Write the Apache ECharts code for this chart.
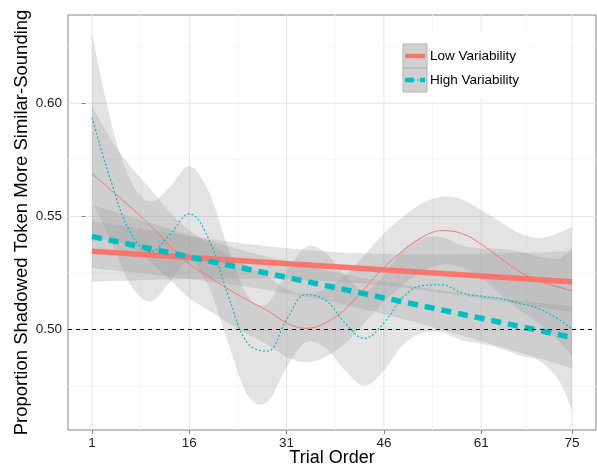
<!DOCTYPE html>
<html>
<head>
<meta charset="utf-8">
<script src="https://cdn.jsdelivr.net/npm/echarts@6/dist/echarts.min.js"></script>
<style>
  html, body { margin: 0; padding: 0; background: #fff; }
  #chart { width: 597px; height: 468px; }
</style>
</head>
<body>
<div id="chart"></div>
<script>
// trial positions for the loess curves and their bands
const trial = [1, 4, 7, 10, 13, 16, 19, 22, 25, 28, 31, 34, 37, 40, 43, 46, 49, 52, 55, 58, 61, 64, 67, 70, 73, 75];

const lowLoess = [0.569, 0.5615, 0.554, 0.546, 0.537, 0.529, 0.5235, 0.518, 0.513, 0.5085, 0.503, 0.5006, 0.503, 0.509, 0.518, 0.5275, 0.535, 0.541, 0.5438, 0.5425, 0.5378, 0.5315, 0.5255, 0.5215, 0.5188, 0.5171];
const lowLoessUpper = [0.599, 0.5835, 0.572, 0.562, 0.552, 0.544, 0.5385, 0.533, 0.528, 0.5235, 0.518, 0.5156, 0.518, 0.524, 0.533, 0.5425, 0.55, 0.556, 0.5588, 0.5575, 0.5528, 0.5475, 0.5425, 0.5405, 0.5428, 0.5456];
const lowLoessLower = [0.539, 0.5395, 0.536, 0.53, 0.522, 0.514, 0.5085, 0.503, 0.498, 0.4935, 0.488, 0.4856, 0.488, 0.494, 0.503, 0.5125, 0.52, 0.526, 0.5288, 0.5275, 0.5228, 0.5155, 0.5085, 0.5025, 0.4948, 0.4886];

const highLoess = [0.5937, 0.565, 0.5425, 0.5345, 0.542, 0.5512, 0.54, 0.515, 0.494, 0.4905, 0.5045, 0.5155, 0.513, 0.503, 0.4962, 0.503, 0.5145, 0.5195, 0.5198, 0.5163, 0.5148, 0.5137, 0.5115, 0.5092, 0.5045, 0.5002];
const highLoessUpper = [0.6307, 0.591, 0.5655, 0.5565, 0.563, 0.5722, 0.561, 0.536, 0.515, 0.5115, 0.5255, 0.5365, 0.534, 0.524, 0.5172, 0.524, 0.5355, 0.5405, 0.5408, 0.5373, 0.5358, 0.5357, 0.5345, 0.5322, 0.5315, 0.5362];
const highLoessLower = [0.5567, 0.539, 0.5195, 0.5125, 0.521, 0.5302, 0.519, 0.494, 0.471, 0.468, 0.4835, 0.4945, 0.492, 0.482, 0.4752, 0.482, 0.4935, 0.4985, 0.4988, 0.4953, 0.4938, 0.4917, 0.4885, 0.4862, 0.4775, 0.4642];

// linear fits and their bands
const linEnds = [1, 75];
const lowLinear = [0.5346, 0.5212];
const highLinear = [0.5412, 0.4966];
const linTrial = [1, 10, 19, 28, 38, 47, 56, 65, 75];
const lowLinUpper = [0.548, 0.544, 0.5401, 0.5369, 0.5344, 0.5334, 0.5333, 0.5338, 0.5346];
const lowLinLower = [0.5212, 0.522, 0.5225, 0.5225, 0.5214, 0.5192, 0.5159, 0.5122, 0.5078];
const highLinUpper = [0.5552, 0.5471, 0.5393, 0.5323, 0.5256, 0.5208, 0.5169, 0.5136, 0.5102];
const highLinLower = [0.5272, 0.5245, 0.5213, 0.5175, 0.5122, 0.5062, 0.4991, 0.4916, 0.483];

// axis ticks and grid
const xTicks = [1, 16, 31, 46, 61, 75];
const xMinor = [8.5, 23.5, 38.5, 53.5, 68];
const yTicks = [0.5, 0.55, 0.6];
const yMinor = [0.475, 0.525, 0.575, 0.625];
const chance = 0.5;

const RED = '#F8766D';
const CYAN = '#00BFC4';
const FILL = 'rgba(153,153,153,0.28)';
const FONT = 'Liberation Sans, Arial, sans-serif';

const pairs = (xs, ys) => xs.map((x, i) => [x, ys[i]]);

// catmull-rom through pixel points so band edges come out smooth like the lines
function spline(pts) {
  const out = [];
  for (let i = 0; i < pts.length - 1; i++) {
    const p0 = pts[Math.max(i - 1, 0)], p1 = pts[i], p2 = pts[i + 1], p3 = pts[Math.min(i + 2, pts.length - 1)];
    for (let k = 0; k < 10; k++) {
      const t = k / 10, t2 = t * t, t3 = t2 * t;
      out.push([0, 1].map(d => 0.5 * (2 * p1[d] + (-p0[d] + p2[d]) * t +
        (2 * p0[d] - 5 * p1[d] + 4 * p2[d] - p3[d]) * t2 + (-p0[d] + 3 * p1[d] - 3 * p2[d] + p3[d]) * t3)));
    }
  }
  out.push(pts[pts.length - 1]);
  return out;
}

function ribbon(xs, lo, hi) {
  return {
    type: 'custom', silent: true, z: 2,
    data: [[xs[0], lo[0]]],
    renderItem(params, api) {
      const top = spline(xs.map((x, i) => api.coord([x, hi[i]])));
      const bot = spline(xs.map((x, i) => api.coord([x, lo[i]])));
      return { type: 'polygon', shape: { points: top.concat(bot.reverse()) }, style: { fill: FILL } };
    }
  };
}

function gridSeries(values, dir, color) {
  return {
    type: 'custom', silent: true, z: 0,
    data: values.map(v => [v]),
    renderItem(params, api) {
      const cs = params.coordSys;
      const v = api.value(0);
      let shape;
      if (dir === 'x') {
        const x = api.coord([v, 0.5])[0];
        shape = { x1: x, y1: cs.y, x2: x, y2: cs.y + cs.height };
      } else {
        const y = api.coord([0, v])[1];
        shape = { x1: cs.x, y1: y, x2: cs.x + cs.width, y2: y };
      }
      return { type: 'line', shape, style: { stroke: color, lineWidth: 1 } };
    }
  };
}

const chart = echarts.init(document.getElementById('chart'), null, { renderer: 'canvas' });

chart.setOption({
  animation: false,
  backgroundColor: '#fff',
  textStyle: { fontFamily: FONT },
  grid: {
    left: 68, right: 1, top: 15, bottom: 38, outerBoundsMode: 'none', containLabel: false,
    show: true, borderColor: '#858585', borderWidth: 1, backgroundColor: '#fff'
  },
  xAxis: {
    type: 'value', min: -2.7, max: 78.7,
    name: 'Trial Order', nameLocation: 'middle', nameGap: 19, nameMoveOverlap: false,
    nameTextStyle: { fontSize: 18, color: '#000', fontFamily: FONT },
    axisLine: { show: false },
    axisTick: { show: true, length: 4, customValues: xTicks, lineStyle: { color: '#858585' } },
    axisLabel: { customValues: xTicks, margin: 6, fontSize: 13.5, color: '#222', fontFamily: FONT },
    splitLine: { show: false }
  },
  yAxis: {
    type: 'value', min: 0.4557, max: 0.639,
    name: 'Proportion Shadowed Token More Similar-Sounding', nameLocation: 'middle', nameGap: 37, nameMoveOverlap: false,
    nameTextStyle: { fontSize: 18.5, color: '#000', fontFamily: FONT },
    axisLine: { show: false },
    axisTick: { show: true, length: 4, customValues: yTicks, lineStyle: { color: '#858585' } },
    axisLabel: {
      customValues: yTicks, margin: 6, fontSize: 13.5, color: '#222', fontFamily: FONT,
      formatter: v => v.toFixed(2)
    },
    splitLine: { show: false }
  },
  series: [
    gridSeries(xMinor, 'x', '#f6f6f6'),
    gridSeries(yMinor, 'y', '#f6f6f6'),
    gridSeries(xTicks, 'x', '#e6e6e6'),
    gridSeries(yTicks, 'y', '#e6e6e6'),
    ribbon(trial, highLoessLower, highLoessUpper),
    ribbon(trial, lowLoessLower, lowLoessUpper),
    ribbon(linTrial, highLinLower, highLinUpper),
    ribbon(linTrial, lowLinLower, lowLinUpper),
    {
      name: 'Low Variability loess', type: 'line', data: pairs(trial, lowLoess), smooth: 0.4,
      showSymbol: false, lineStyle: { color: RED, width: 1 }, z: 3
    },
    {
      name: 'High Variability loess', type: 'line', data: pairs(trial, highLoess), smooth: 0.4,
      showSymbol: false, lineStyle: { color: CYAN, width: 1.2, type: [2, 2] }, z: 3
    },
    {
      name: 'Low Variability', type: 'line', data: pairs(linEnds, lowLinear),
      showSymbol: false, lineStyle: { color: RED, width: 5.5 }, z: 4
    },
    {
      name: 'High Variability', type: 'line', data: pairs(linEnds, highLinear),
      showSymbol: false, lineStyle: { color: CYAN, width: 5.5, type: [10, 7] }, z: 4,
      markLine: {
        silent: true, symbol: 'none', label: { show: false },
        lineStyle: { color: '#000', width: 1, type: [4, 4] },
        data: [{ yAxis: chance }]
      }
    }
  ],
  graphic: [
    { type: 'rect', shape: { x: 397, y: 33, width: 134, height: 65 }, style: { fill: '#fff' }, z: 10 },
    { type: 'rect', shape: { x: 403, y: 44, width: 24, height: 24 }, style: { fill: '#d0d0d0', stroke: '#b5b5b5', lineWidth: 1 }, z: 11 },
    { type: 'rect', shape: { x: 403, y: 68, width: 24, height: 24 }, style: { fill: '#d0d0d0', stroke: '#b5b5b5', lineWidth: 1 }, z: 11 },
    { type: 'line', shape: { x1: 405, y1: 56, x2: 425, y2: 56 }, style: { stroke: RED, lineWidth: 4.5 }, z: 12 },
    { type: 'line', shape: { x1: 405, y1: 80, x2: 425, y2: 80 }, style: { stroke: CYAN, lineWidth: 1.2, lineDash: [2, 2] }, z: 12 },
    { type: 'line', shape: { x1: 405, y1: 80, x2: 425, y2: 80 }, style: { stroke: CYAN, lineWidth: 4.5, lineDash: [9, 6] }, z: 12 },
    { type: 'text', x: 430, y: 56, style: { text: 'Low Variability', font: '13.5px ' + FONT, fill: '#000', textVerticalAlign: 'middle' }, z: 12 },
    { type: 'text', x: 430, y: 80, style: { text: 'High Variability', font: '13.5px ' + FONT, fill: '#000', textVerticalAlign: 'middle' }, z: 12 }
  ]
});
</script>
</body>
</html>
